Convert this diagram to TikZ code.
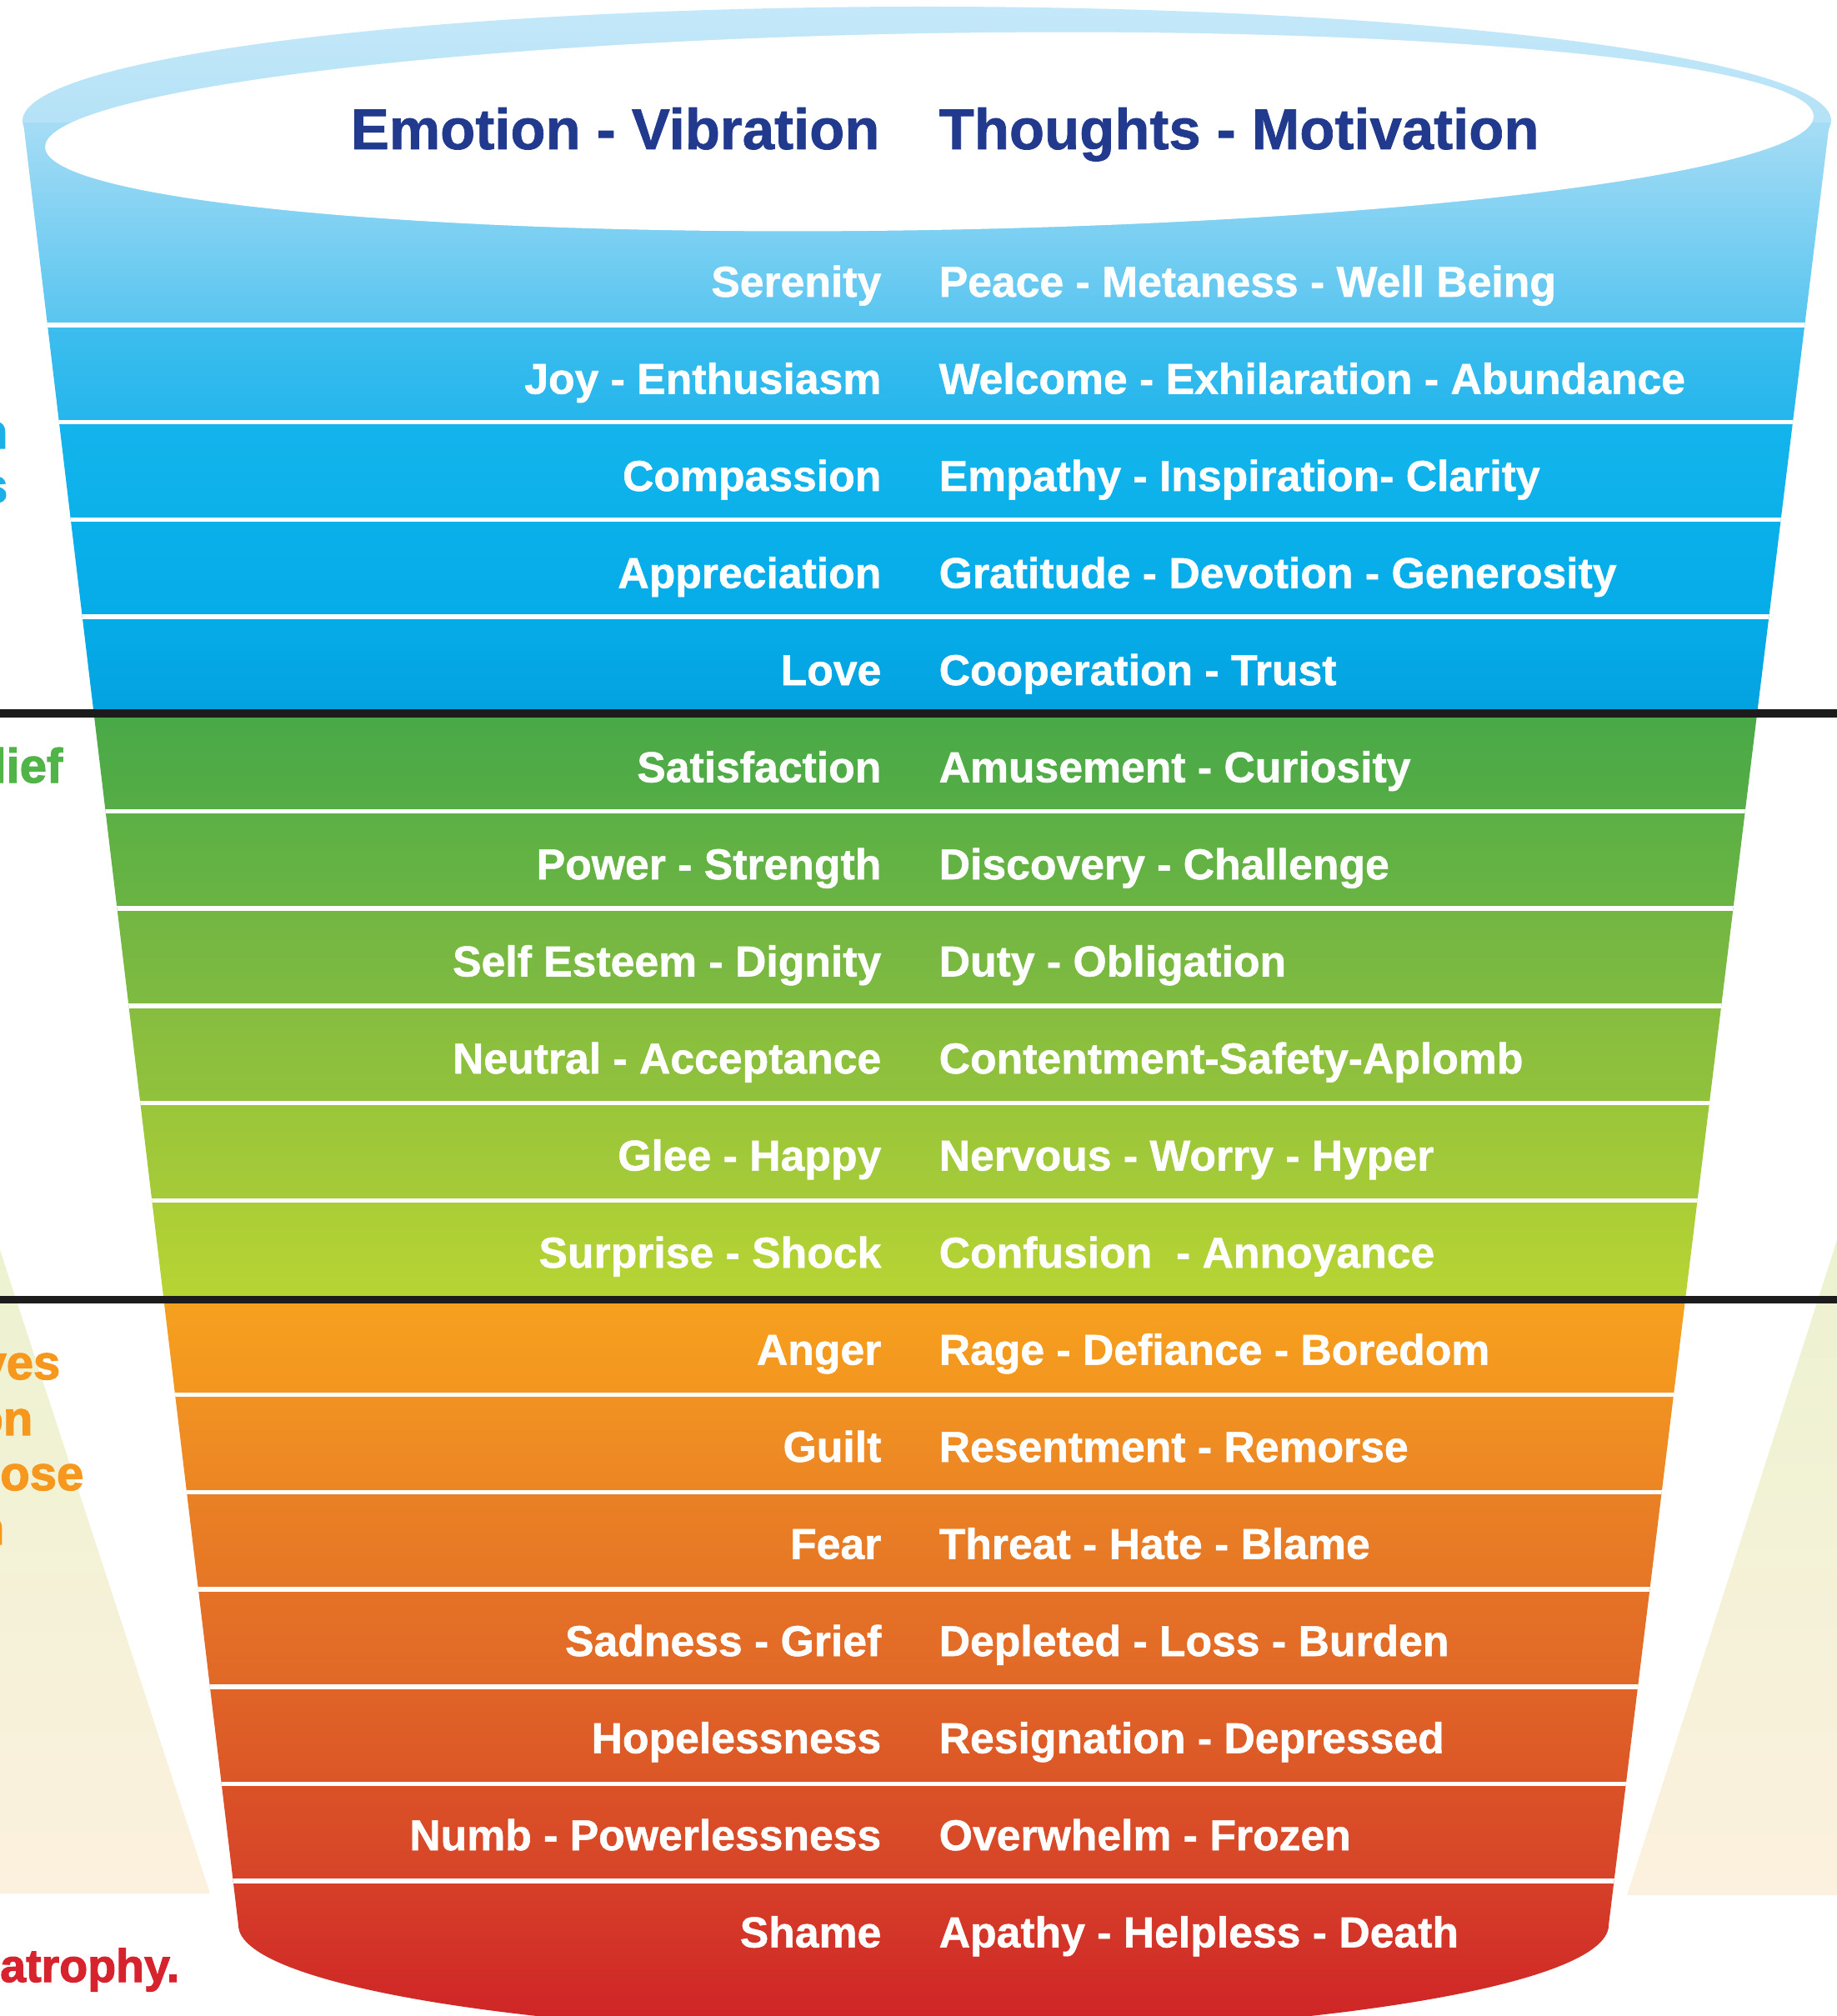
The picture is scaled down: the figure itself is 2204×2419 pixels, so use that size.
\documentclass[tikz,border=0pt]{standalone}
\usepackage{fontspec}
\setmainfont{Liberation Sans}
\newfontfamily\rowfont{Liberation Sans}[BoldFeatures={FakeBold=1}]
\newfontfamily\fragfont{Liberation Sans}[BoldFeatures={FakeBold=2}]
\definecolor{navy}{RGB}{34,58,142}
\definecolor{linegray}{RGB}{28,28,28}
\definecolor{paleA}{RGB}{236,242,208}
\definecolor{paleB}{RGB}{252,241,222}
\definecolor{rimtop}{RGB}{196,232,249}
\definecolor{rimbot}{RGB}{166,220,245}
\definecolor{fragblue}{RGB}{27,176,231}
\definecolor{fraggreen}{RGB}{80,180,72}
\definecolor{fragorange}{RGB}{246,152,30}
\definecolor{fragred}{RGB}{214,35,45}
\definecolor{t0}{RGB}{168,221,245}\definecolor{b0}{RGB}{88,197,240}
\definecolor{t1}{RGB}{62,189,238}\definecolor{b1}{RGB}{36,182,236}
\definecolor{t2}{RGB}{20,180,236}\definecolor{b2}{RGB}{12,177,234}
\definecolor{t3}{RGB}{10,176,234}\definecolor{b3}{RGB}{6,172,232}
\definecolor{t4}{RGB}{5,172,232}\definecolor{b4}{RGB}{3,162,223}
\definecolor{t5}{RGB}{73,169,71}\definecolor{b5}{RGB}{85,173,70}
\definecolor{t6}{RGB}{92,176,69}\definecolor{b6}{RGB}{106,180,67}
\definecolor{t7}{RGB}{114,182,66}\definecolor{b7}{RGB}{127,187,65}
\definecolor{t8}{RGB}{134,189,63}\definecolor{b8}{RGB}{146,194,60}
\definecolor{t9}{RGB}{154,198,58}\definecolor{b9}{RGB}{166,203,56}
\definecolor{t10}{RGB}{170,205,54}\definecolor{b10}{RGB}{183,212,51}
\definecolor{t11}{RGB}{246,161,31}\definecolor{b11}{RGB}{243,149,31}
\definecolor{t12}{RGB}{241,146,34}\definecolor{b12}{RGB}{236,133,35}
\definecolor{t13}{RGB}{234,129,36}\definecolor{b13}{RGB}{230,118,38}
\definecolor{t14}{RGB}{229,114,38}\definecolor{b14}{RGB}{225,104,39}
\definecolor{t15}{RGB}{224,100,39}\definecolor{b15}{RGB}{220,86,39}
\definecolor{t16}{RGB}{219,82,39}\definecolor{b16}{RGB}{214,68,40}
\definecolor{t17}{RGB}{214,64,40}\definecolor{b17}{RGB}{206,32,39}
\begin{document}
\begin{tikzpicture}[x=0.01cm,y=0.01cm,
  rowl/.style={anchor=base east, inner sep=0pt, text=white, font=\fontsize{14.7pt}{17pt}\rowfont\bfseries},
  rowr/.style={anchor=base west, inner sep=0pt, text=white, font=\fontsize{14.7pt}{17pt}\rowfont\bfseries},
  head/.style={inner sep=0pt, text=navy, font=\fontsize{19.6pt}{23pt}\rowfont\bfseries},
  frag/.style={anchor=base east, inner sep=0pt, font=\fontsize{16.5pt}{19pt}\fragfont\bfseries},
  fragsmall/.style={anchor=base east, inner sep=0pt, font=\fontsize{15.8pt}{18pt}\fragfont\bfseries},
  wline/.style={draw=white, line width=0.055cm},
  bline/.style={draw=linegray, line width=0.09cm}]
\useasboundingbox (0,0) rectangle (2204,-2419);
\clip (0,0) rectangle (2204,-2419);
\fill[white] (0,0) rectangle (2204,-2419);
% pale side triangles
\shade[top color=paleA, bottom color=paleB] (0,-1500) -- (252,-2272) -- (0,-2272) -- cycle;
\shade[top color=paleA, bottom color=paleB] (2204,-1488) -- (1952,-2274) -- (2204,-2274) -- cycle;
% rim of the funnel
\shade[top color=rimtop, bottom color=rimbot] (1112,-145) ellipse [x radius=1085, y radius=137];
% funnel body
\begin{scope}
\clip (28,-147) -- (286,-2310) arc[start angle=180,end angle=360,x radius=822,y radius=132] -- (2195,-147) -- cycle;
\shade[top color=t0, bottom color=b0] (0,-140) rectangle (2204,-390);
\shade[top color=t1, bottom color=b1] (0,-390) rectangle (2204,-506.7);
\shade[top color=t2, bottom color=b2] (0,-506.7) rectangle (2204,-623.4);
\shade[top color=t3, bottom color=b3] (0,-623.4) rectangle (2204,-740.1);
\shade[top color=t4, bottom color=b4] (0,-740.1) rectangle (2204,-856.8);
\shade[top color=t5, bottom color=b5] (0,-856.8) rectangle (2204,-973.5);
\shade[top color=t6, bottom color=b6] (0,-973.5) rectangle (2204,-1090.2);
\shade[top color=t7, bottom color=b7] (0,-1090.2) rectangle (2204,-1206.9);
\shade[top color=t8, bottom color=b8] (0,-1206.9) rectangle (2204,-1323.6);
\shade[top color=t9, bottom color=b9] (0,-1323.6) rectangle (2204,-1440.3);
\shade[top color=t10, bottom color=b10] (0,-1440.3) rectangle (2204,-1557);
\shade[top color=t11, bottom color=b11] (0,-1557) rectangle (2204,-1673.7);
\shade[top color=t12, bottom color=b12] (0,-1673.7) rectangle (2204,-1790.4);
\shade[top color=t13, bottom color=b13] (0,-1790.4) rectangle (2204,-1907.1);
\shade[top color=t14, bottom color=b14] (0,-1907.1) rectangle (2204,-2023.8);
\shade[top color=t15, bottom color=b15] (0,-2023.8) rectangle (2204,-2140.5);
\shade[top color=t16, bottom color=b16] (0,-2140.5) rectangle (2204,-2257.2);
\shade[top color=t17, bottom color=b17] (0,-2257.2) rectangle (2204,-2450);
\foreach \yy in {390,506.7,623.4,740.1,973.5,1090.2,1206.9,1323.6,1440.3,1673.7,1790.4,1907.1,2023.8,2140.5,2257.2}{
  \draw[wline] (0,-\yy) -- (2204,-\yy);
}
\end{scope}
% opening of the funnel
\fill[white, rotate around={1:(1115,-158)}] (1115,-158) ellipse [x radius=1061, y radius=118];
% black separator lines
\coordinate (s1l) at (0,-856);
\coordinate (s1r) at (2204,-856);
\coordinate (s2l) at (0,-1559);
\coordinate (s2r) at (2204,-1559);
\draw[bline] (s1l) -- (s1r);
\draw[bline] (s2l) -- (s2r);
% heading
\node[head, anchor=base east] (h1) at (1056,-179) {Emotion - Vibration};
\node[head, anchor=base west] (h2) at (1126,-179) {Thoughts - Motivation};
% rows
\node[rowl] (l0) at (1058,-356) {Serenity};
\node[rowr] (r0) at (1126,-356) {Peace - Metaness - Well Being};
\node[rowl] (l1) at (1058,-472.5) {Joy - Enthusiasm};
\node[rowr] (r1) at (1126,-472.5) {Welcome - Exhilaration - Abundance};
\node[rowl] (l2) at (1058,-589) {Compassion};
\node[rowr] (r2) at (1126,-589) {Empathy - Inspiration- Clarity};
\node[rowl] (l3) at (1058,-705.5) {Appreciation};
\node[rowr] (r3) at (1126,-705.5) {Gratitude - Devotion - Generosity};
\node[rowl] (l4) at (1058,-822) {Love};
\node[rowr] (r4) at (1126,-822) {Cooperation - Trust};
\node[rowl] (l5) at (1058,-938.5) {Satisfaction};
\node[rowr] (r5) at (1126,-938.5) {Amusement - Curiosity};
\node[rowl] (l6) at (1058,-1055) {Power - Strength};
\node[rowr] (r6) at (1126,-1055) {Discovery - Challenge};
\node[rowl] (l7) at (1058,-1171.5) {Self Esteem - Dignity};
\node[rowr] (r7) at (1126,-1171.5) {Duty - Obligation};
\node[rowl] (l8) at (1058,-1288) {Neutral - Acceptance};
\node[rowr] (r8) at (1126,-1288) {Contentment-Safety-Aplomb};
\node[rowl] (l9) at (1058,-1404.5) {Glee - Happy};
\node[rowr] (r9) at (1126,-1404.5) {Nervous - Worry - Hyper};
\node[rowl] (l10) at (1058,-1521) {Surprise - Shock};
\node[rowr] (r10) at (1126,-1521) {Confusion \ - Annoyance};
\node[rowl] (l11) at (1058,-1637.5) {Anger};
\node[rowr] (r11) at (1126,-1637.5) {Rage - Defiance - Boredom};
\node[rowl] (l12) at (1058,-1754) {Guilt};
\node[rowr] (r12) at (1126,-1754) {Resentment - Remorse};
\node[rowl] (l13) at (1058,-1870.5) {Fear};
\node[rowr] (r13) at (1126,-1870.5) {Threat - Hate - Blame};
\node[rowl] (l14) at (1058,-1987) {Sadness - Grief};
\node[rowr] (r14) at (1126,-1987) {Depleted - Loss - Burden};
\node[rowl] (l15) at (1058,-2103.5) {Hopelessness};
\node[rowr] (r15) at (1126,-2103.5) {Resignation - Depressed};
\node[rowl] (l16) at (1058,-2220) {Numb - Powerlessness};
\node[rowr] (r16) at (1126,-2220) {Overwhelm - Frozen};
\node[rowl] (l17) at (1058,-2336.5) {Shame};
\node[rowr] (r17) at (1126,-2336.5) {Apathy - Helpless - Death};
% cut-off side texts
\node[frag, text=fragblue] (f1) at (10,-538) {n};
\node[frag, text=fragblue] (f2) at (10,-603) {s};
\node[frag, text=fraggreen] (f3) at (76,-939) {lief};
\node[frag, text=fragorange] (f4) at (73,-1655) {ves};
\node[frag, text=fragorange] (f5) at (40,-1722) {on};
\node[frag, text=fragorange] (f6) at (101,-1788) {ose};
\node[frag, text=fragorange] (f7) at (6,-1853) {n};
\node[fragsmall, text=fragred] (f8) at (216,-2378) {atrophy.};
\end{tikzpicture}
\end{document}
